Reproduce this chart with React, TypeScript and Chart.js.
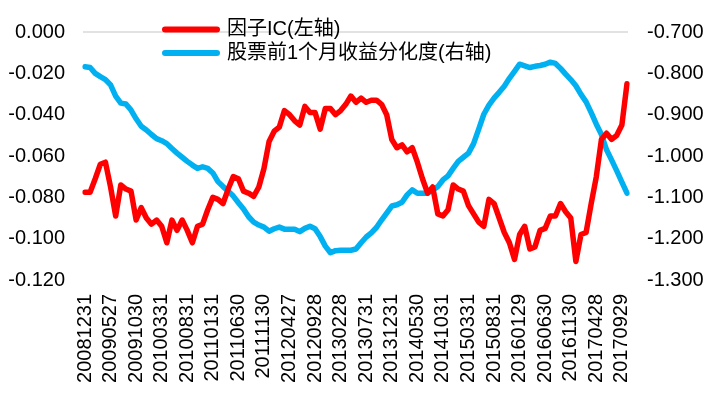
import React, { useEffect, useRef } from 'react';
import { Chart, registerables } from 'chart.js';

Chart.register(...registerables);

// Tick labels shown on the x axis (every 5th month)
const tickLabels = [
  '20081231', '20090527', '20091030', '20100331', '20100831', '20110131',
  '20110630', '20111130', '20120427', '20120928', '20130228', '20130731',
  '20131231', '20140530', '20141031', '20150331', '20150831', '20160129',
  '20160630', '20161130', '20170428', '20170929',
];

// 因子IC (left axis), monthly from 2008-12 to 2017-10
const factorIC = [
  -0.0775, -0.0775, -0.071, -0.064, -0.063, -0.075, -0.089, -0.074, -0.076, -0.077,
  -0.091, -0.085, -0.090, -0.093, -0.091, -0.094, -0.102, -0.091, -0.096, -0.091,
  -0.096, -0.102, -0.094, -0.093, -0.086, -0.080, -0.081, -0.083, -0.076, -0.070,
  -0.071, -0.077, -0.078, -0.0795, -0.075, -0.066, -0.053, -0.048, -0.046, -0.038,
  -0.040, -0.043, -0.045, -0.036, -0.039, -0.039, -0.047, -0.037, -0.037, -0.040,
  -0.038, -0.035, -0.031, -0.034, -0.032, -0.034, -0.033, -0.033, -0.035, -0.040,
  -0.052, -0.056, -0.0546, -0.058, -0.056, -0.063, -0.071, -0.078, -0.075, -0.088,
  -0.089, -0.086, -0.074, -0.076, -0.077, -0.084, -0.088, -0.092, -0.094, -0.081,
  -0.083, -0.090, -0.097, -0.102, -0.110, -0.098, -0.094, -0.105, -0.104, -0.096,
  -0.095, -0.089, -0.089, -0.083, -0.087, -0.090, -0.111, -0.098, -0.097, -0.083,
  -0.070, -0.052, -0.049, -0.052, -0.050, -0.045, -0.025,
];

// 股票前1个月收益分化度 (right axis)
const dispersion = [
  -0.784, -0.786, -0.800, -0.808, -0.815, -0.828, -0.855, -0.872, -0.874, -0.889,
  -0.910, -0.928, -0.937, -0.948, -0.958, -0.963, -0.970, -0.982, -0.993, -1.003,
  -1.013, -1.022, -1.030, -1.026, -1.030, -1.041, -1.062, -1.074, -1.085, -1.097,
  -1.113, -1.128, -1.147, -1.160, -1.167, -1.172, -1.182, -1.176, -1.172, -1.177,
  -1.177, -1.177, -1.183, -1.175, -1.170, -1.176, -1.195, -1.218, -1.234, -1.229,
  -1.228, -1.228, -1.228, -1.225, -1.210, -1.196, -1.186, -1.173, -1.155, -1.138,
  -1.121, -1.118, -1.112, -1.094, -1.082, -1.090, -1.090, -1.090, -1.082, -1.074,
  -1.058, -1.048, -1.030, -1.013, -1.003, -0.993, -0.970, -0.935, -0.899, -0.877,
  -0.860, -0.846, -0.831, -0.812, -0.795, -0.778, -0.782, -0.786, -0.783, -0.781,
  -0.778, -0.773, -0.776, -0.788, -0.802, -0.815, -0.830, -0.851, -0.869, -0.895,
  -0.923, -0.948, -0.985, -1.010, -1.036, -1.063, -1.090,
];

const seriesNames = ['因子IC(左轴)', '股票前1个月收益分化度(右轴)'];
const seriesColors = ['#FF0000', '#00B0F0'];

// Category per month: shown labels at every 5th month, YYYYMM otherwise
const categories = factorIC.map((_, i) => {
  if (i % 5 === 0 && tickLabels[i / 5]) return tickLabels[i / 5];
  const m = 11 + i; // months since 2008-01 (0-based)
  const y = 2008 + Math.floor(m / 12);
  const mo = (m % 12) + 1;
  return `${y}${mo < 10 ? '0' : ''}${mo}`;
});

const FONT = '"Liberation Sans", Arial, "Noto Sans CJK SC", sans-serif';

const decorPlugin = {
  id: 'decor',
  beforeDatasetsDraw(chart: any) {
    const { ctx, chartArea } = chart;
    ctx.save();
    ctx.strokeStyle = '#D9D9D9';
    ctx.lineWidth = 1.5;
    ctx.beginPath();
    ctx.moveTo(chartArea.left - 2, chartArea.top);
    ctx.lineTo(chartArea.right + 1, chartArea.top);
    ctx.stroke();
    ctx.restore();
  },
  afterDraw(chart: any) {
    const { ctx } = chart;
    ctx.save();
    const rows = [29.5, 53];
    seriesNames.forEach((name, k) => {
      const y = rows[k];
      ctx.strokeStyle = seriesColors[k];
      ctx.lineWidth = 6;
      ctx.lineCap = 'round';
      ctx.beginPath();
      ctx.moveTo(165, y);
      ctx.lineTo(217, y);
      ctx.stroke();
      ctx.fillStyle = '#000';
      ctx.font = `20px ${FONT}`;
      ctx.textBaseline = 'middle';
      ctx.textAlign = 'left';
      ctx.fillText(name, 227, y);
    });
    ctx.restore();
  },
};

export default function App() {
  const ref = useRef<HTMLCanvasElement | null>(null);

  useEffect(() => {
    if (!ref.current) return;
    const chart = new Chart(ref.current, {
      type: 'line',
      data: {
        labels: categories,
        datasets: [
          {
            label: seriesNames[0],
            data: factorIC,
            borderColor: seriesColors[0],
            backgroundColor: seriesColors[0],
            borderWidth: 5.5,
            pointRadius: 0,
            tension: 0,
            borderJoinStyle: 'round',
            borderCapStyle: 'round',
            yAxisID: 'y',
          },
          {
            label: seriesNames[1],
            data: dispersion,
            borderColor: seriesColors[1],
            backgroundColor: seriesColors[1],
            borderWidth: 5.5,
            pointRadius: 0,
            tension: 0,
            borderJoinStyle: 'round',
            borderCapStyle: 'round',
            yAxisID: 'y1',
          },
        ],
      },
      options: {
        animation: false,
        responsive: true,
        maintainAspectRatio: false,
        layout: { padding: { top: 23, left: 0, right: 0, bottom: 0 } },
        plugins: {
          legend: { display: false },
          tooltip: { enabled: false },
        },
        scales: {
          x: {
            type: 'category',
            offset: false,
            grid: { display: false, drawTicks: false },
            border: { display: false },
            ticks: {
              autoSkip: false,
              maxRotation: 90,
              minRotation: 90,
              padding: 14,
              color: '#000',
              font: { family: FONT, size: 20 },
              callback: (_v: any, i: number) => (i % 5 === 0 ? categories[i] : ''),
            },
            afterFit: (s: any) => {
              s.height = 113;
            },
          },
          y: {
            position: 'left',
            min: -0.12,
            max: 0,
            grid: { display: false, drawTicks: false },
            border: { display: false },
            ticks: {
              stepSize: 0.02,
              padding: 20,
              color: '#000',
              font: { family: FONT, size: 20 },
              callback: (v: any) => Number(v).toFixed(3),
            },
            afterFit: (s: any) => {
              s.width = 85;
            },
          },
          y1: {
            position: 'right',
            min: -1.3,
            max: -0.7,
            grid: { display: false, drawTicks: false },
            border: { display: false },
            ticks: {
              stepSize: 0.1,
              padding: 20,
              color: '#000',
              font: { family: FONT, size: 20 },
              callback: (v: any) => Number(v).toFixed(3),
            },
            afterFit: (s: any) => {
              s.width = 90;
            },
          },
        },
      },
      plugins: [decorPlugin],
    });
    return () => chart.destroy();
  }, []);

  return (
    <div
      style={{
        position: 'fixed',
        left: 0,
        top: 0,
        width: 717,
        height: 393,
        background: '#fff',
      }}
    >
      <canvas ref={ref} />
    </div>
  );
}
